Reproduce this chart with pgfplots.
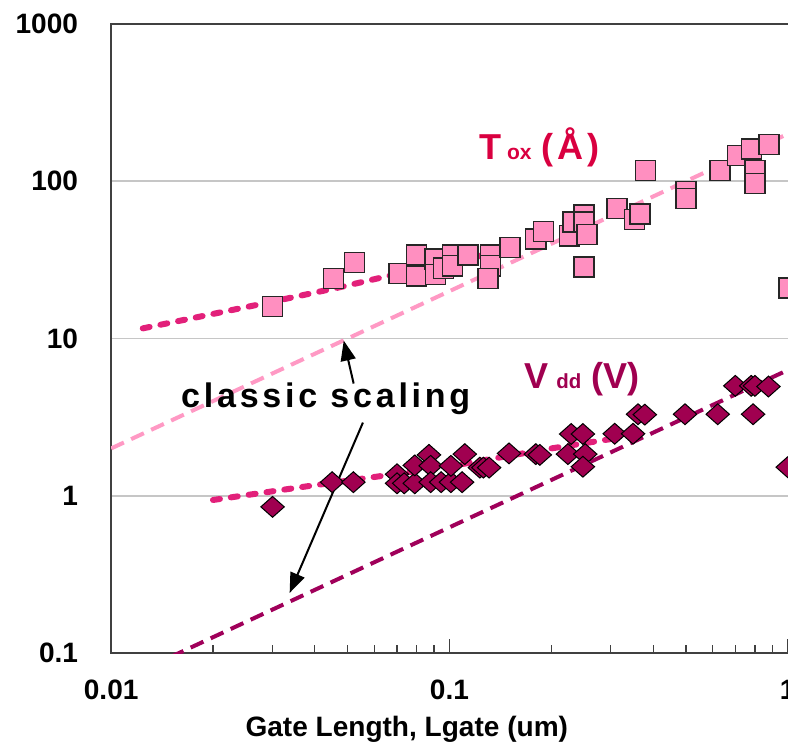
\documentclass[border=0pt]{standalone}
\usepackage{fontspec}
\setmainfont{Liberation Sans}
\newfontfamily\spacedfont{Liberation Sans}[LetterSpace=11]
\usepackage{pgfplots}
\pgfplotsset{compat=1.18}
\usetikzlibrary{arrows.meta}

\definecolor{toxfill}{RGB}{255,143,192}
\definecolor{vddfill}{RGB}{160,0,80}
\definecolor{trend}{RGB}{226,32,122}
\definecolor{toxclassic}{RGB}{255,153,196}
\definecolor{vddclassic}{RGB}{160,0,90}
\definecolor{toxlabel}{RGB}{217,0,64}
\definecolor{axisgray}{RGB}{64,64,64}

\begin{document}
\begin{tikzpicture}
\begin{loglogaxis}[
    name=ax,
    scale only axis,
    width=338.5pt, height=314pt,
    xmin=0.01, xmax=1.01, ymin=0.1, ymax=1000,
    xtick={0.01,0.1,1}, xticklabels={0.01,0.1,1},
    ytick={0.1,1,10,100,1000}, yticklabels={0.1,1,10,100,1000},
    xtick pos=bottom, ytick pos=left,
    tick align=inside,
    major tick length=7pt, minor tick length=4pt,
    xtick style={axisgray, line width=0.6pt},
    ytick style={draw=none},
    yminorticks=false,
    axis line style={axisgray, line width=1.2pt},
    ymajorgrids,
    major grid style={gray!45, line width=0.8pt},
    tick label style={font=\fontsize{14}{16}\selectfont\bfseries},
    xticklabel style={yshift=-10pt},
    yticklabel style={xshift=-13pt},
    xlabel={Gate Length, Lgate (um)},
    xlabel style={font=\fontsize{14}{16}\selectfont\bfseries,
        at={(axis description cs:0.436,0)}, anchor=center, yshift=-38pt},
]
% classic scaling lines
\addplot[toxclassic, line width=2pt, dash pattern=on 7pt off 4pt]
    coordinates {(0.01,2) (1.01,202)};
\addplot[vddclassic, line width=2pt, dash pattern=on 7pt off 4pt]
    coordinates {(0.015,0.0945) (1.01,6.36)};

% Tox data
\addplot[only marks, mark=square*, mark size=5pt,
    mark options={fill=toxfill, draw=black!85, line width=0.7pt}]
    coordinates {
    (0.030,16) (0.0455,24) (0.0525,30.5) (0.071,26) (0.080,34) (0.080,25)
    (0.0906,32) (0.091,25.6) (0.096,28) (0.102,34) (0.102,29) (0.1135,34)
    (0.132,34) (0.132,29) (0.130,24) (0.151,38) (0.18,43) (0.19,48)
    (0.226,45) (0.232,55) (0.25,61) (0.25,55) (0.255,46) (0.25,28.5)
    (0.313,67) (0.352,57) (0.366,62) (0.38,117) (0.50,86) (0.50,78)
    (0.63,117) (0.71,146) (0.78,160) (0.88,172) (0.80,117) (0.80,97)
    (1.01,21)
    };

% Vdd data
\addplot[only marks, mark=diamond*, mark size=5.2pt,
    mark options={fill=vddfill, draw=black, line width=0.5pt, xscale=1.5}]
    coordinates {
    (0.030,0.85) (0.045,1.22) (0.052,1.22) (0.070,1.37) (0.070,1.20)
    (0.0735,1.20) (0.079,1.20) (0.079,1.56) (0.087,1.82) (0.088,1.55)
    (0.088,1.22) (0.0945,1.22) (0.101,1.22) (0.101,1.55) (0.109,1.22)
    (0.111,1.84) (0.123,1.51) (0.126,1.51) (0.131,1.51) (0.150,1.86)
    (0.180,1.84) (0.185,1.82) (0.224,1.84) (0.229,2.47) (0.248,2.47)
    (0.252,1.84) (0.248,1.53) (0.308,2.48) (0.349,2.48) (0.361,3.30)
    (0.378,3.28) (0.497,3.30) (0.621,3.30) (0.70,5.0) (0.78,5.0)
    (0.80,5.0) (0.877,4.95) (0.79,3.3) (1.0,1.52)
    };

% trend lines
\addplot[trend, line width=3pt, dash pattern=on 3.5pt off 5.5pt, line cap=round]
    coordinates {(0.0124,11.6) (0.029,16.9) (0.047,21.1) (0.095,30) (0.155,37)};
\addplot[trend, line width=3pt, dash pattern=on 3.5pt off 5.5pt, line cap=round]
    coordinates {(0.020,0.94) (0.037,1.14) (0.095,1.51) (0.197,1.99) (0.318,2.34)};

% annotations
\node[anchor=base west, inner sep=0, text=toxlabel,
    font=\fontsize{18}{20}\selectfont\bfseries] at (axis cs:0.122,138)
    {T\hspace{3pt}{\fontsize{10.5}{12}\selectfont ox}\hspace{5pt}(\hspace{2pt}Å\hspace{2pt})};
\node[anchor=base west, inner sep=0, text=vddfill,
    font=\fontsize{18}{20}\selectfont\bfseries] at (axis cs:0.166,4.81)
    {V\hspace{4pt}{\fontsize{10.2}{12}\selectfont dd}\hspace{5pt}(V)};
\node[font=\fontsize{17}{19}\selectfont\bfseries\spacedfont] at (axis cs:0.0431,4.15)
    {classic scaling};
\draw[line width=1pt, -{Triangle[length=10pt, width=7.5pt]}]
    (axis cs:0.0521,5.17) -- (axis cs:0.0487,9.7);
\draw[line width=1pt, -{Triangle[length=10pt, width=7.5pt]}]
    (axis cs:0.0555,2.92) -- (axis cs:0.0337,0.241);
\end{loglogaxis}
\pgfresetboundingbox
\path[use as bounding box] ([xshift=-55.5pt, yshift=-47.5pt]ax.south west)
    rectangle ([xshift=-0.6pt, yshift=12pt]ax.north east);
\end{tikzpicture}
\end{document}
